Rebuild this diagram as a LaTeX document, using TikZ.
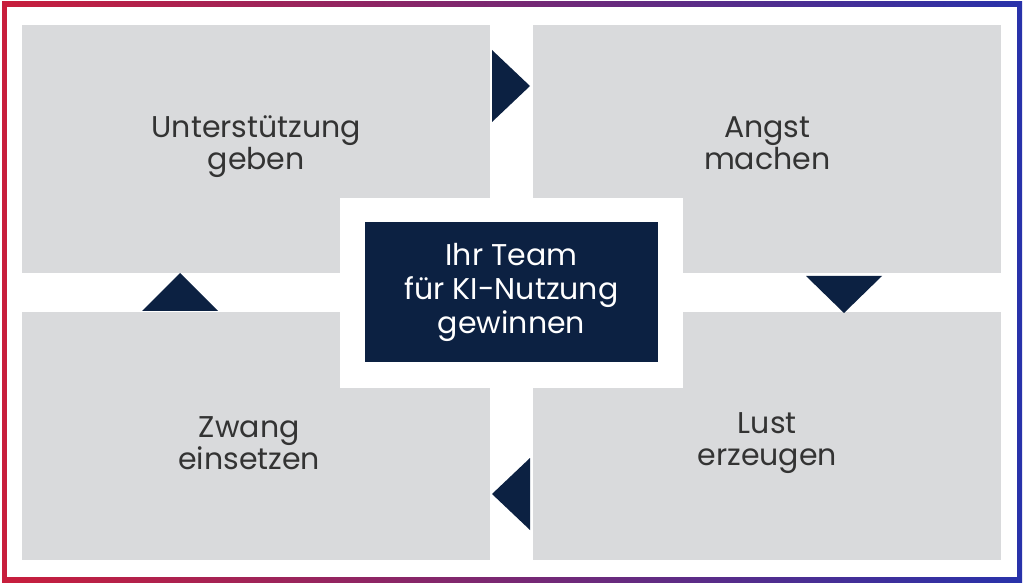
\documentclass[tikz,border=0pt]{standalone}
\usepackage{fontspec}
\setmainfont{Poppins}
\definecolor{boxgray}{RGB}{217,218,220}
\definecolor{navy}{RGB}{12,33,66}
\definecolor{framered}{RGB}{200,30,60}
\definecolor{frameblue}{RGB}{40,50,170}
\begin{document}
\begin{tikzpicture}[x=0.75pt,y=-0.75pt,
    panel/.style={fill=boxgray,draw=none,minimum width=468*0.75pt,minimum height=248*0.75pt,
      anchor=north west,inner sep=0pt},
    paneltext/.style={align=center,font=\fontsize{22.5}{24}\selectfont,text=black!80,inner sep=0pt},
    arrowtri/.style={fill=navy,draw=none}
    ]
    % background and frame
    \useasboundingbox (0,0) rectangle (1024,584);
    \fill[white] (0,0) rectangle (1024,584);
    \shade[left color=framered,right color=frameblue] (2,2) rectangle (1022,582);
    \fill[white] (7,7) rectangle (1017,577);

    % the four panels
    \node[panel] (tl) at (22,25) {};
    \node[panel] (tr) at (533,25) {};
    \node[panel] (bl) at (22,312) {};
    \node[panel] (br) at (533,312) {};
    \node[paneltext] (tltext) at ([yshift=3*0.75pt]tl.center) {Unterstützung\\geben};
    \node[paneltext] (trtext) at ([yshift=6*0.75pt]tr.center) {Angst\\machen};
    \node[paneltext] (bltext) at ([xshift=-7*0.75pt,yshift=-7*0.75pt]bl.center) {Zwang\\einsetzen};
    \node[paneltext] (brtext) at ([yshift=-7*0.75pt]br.center) {Lust\\erzeugen};

    % the center
    \fill[white] (340,198) rectangle (683,388);
    \node[fill=navy,text=white,minimum width=293*0.75pt,minimum height=140*0.75pt,
      align=center,font=\fontsize{22.5}{25.5}\selectfont,inner sep=0pt] (core) at (511.5,292) {Ihr Team\\für KI-Nutzung\\gewinnen};

    % the arrows
    \fill[arrowtri] (492,50) -- (530,86) -- (492,122) -- cycle;
    \fill[arrowtri] (806,276) -- (882,276) -- (844,313) -- cycle;
    \fill[arrowtri] (530,458) -- (492,494) -- (530,530) -- cycle;
    \fill[arrowtri] (142,311) -- (218,311) -- (180,273) -- cycle;
\end{tikzpicture}
\end{document}
